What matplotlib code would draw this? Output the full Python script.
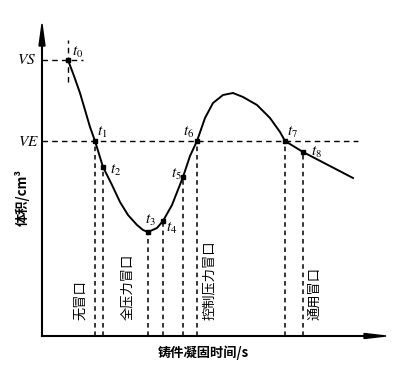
import matplotlib.pyplot as plt
import numpy as np

plt.rcParams['font.family'] = ['Noto Sans CJK SC', 'DejaVu Sans']
plt.rcParams['mathtext.fontset'] = 'stix'

# curve (time, volume), arbitrary units
curve_t = [26, 32, 38, 43, 48, 53, 61, 70, 78, 86, 95, 101, 106, 115, 121, 130, 141,
           148, 155, 163, 171, 181, 191, 201, 215, 228, 238, 243, 261, 286, 311]
curve_v = [276, 260, 243, 226, 209, 195, 169, 151, 134, 121, 111, 106, 104, 108, 115,
           131, 159, 180, 195, 218, 233, 241, 243, 239, 231, 218, 204, 195, 184, 171, 158]

# marked instants t0..t8
mark_names = ['t_0', 't_1', 't_2', 't_3', 't_4', 't_5', 't_6', 't_7', 't_8']
mark_t = [26, 53, 61, 106, 121, 141, 155, 243, 261]
mark_v = [276, 195, 169, 104, 115, 159, 195, 195, 184]

VS, VE = 276, 195
riser_names = ['无冒口', '全压力冒口', '控制压力冒口', '通用冒口']
riser_t = [39, 86, 168, 273]

fig = plt.figure(figsize=(3.97, 3.72), dpi=100)
ax = fig.add_axes([0, 0, 1, 1])
ax.set_xlim(-42, 355)
ax.set_ylim(-36, 336)
ax.axis('off')

# axes with arrows
ax.plot([0, 0], [0, 296], color='black', lw=1.5)
ax.plot([0, 330], [0, 0], color='black', lw=1.5)
ax.fill([-3, 3, 0], [290, 290, 312], color='black')
ax.fill([322, 322, 344], [-2.5, 2.5, 0], color='black')

dash = (0, (4, 3))
ax.plot([0, 316], [VE, VE], color='black', lw=1, linestyle=dash)
ax.plot([0, 41], [VS, VS], color='black', lw=1, linestyle=dash)
ax.plot([mark_t[0], mark_t[0]], [254, 296], color='black', lw=1, linestyle=dash)
for t, v in zip(mark_t[1:], mark_v[1:]):
    ax.plot([t, t], [0, v], color='black', lw=1.1, linestyle=(0, (3, 2.5)))

ax.plot(curve_t, curve_v, color='black', lw=1.4, solid_joinstyle='round')
ax.plot(mark_t, mark_v, 's', color='black', markersize=3.5)

offsets = [(10, 8), (7, 9), (13, -3), (2, 12), (9, -6), (-7, 4), (-8, 10), (7, 10), (13, 0)]
for name, t, v, (dx, dy) in zip(mark_names, mark_t, mark_v, offsets):
    ax.text(t + dx, v + dy, '$' + name + '$', fontsize=11, ha='center', va='center')

ax.text(-15, VS, '$VS$', fontsize=11, ha='center', va='center')
ax.text(-14, VE, '$VE$', fontsize=11, ha='center', va='center')

for name, t in zip(riser_names, riser_t):
    ax.text(t, 16, name, rotation=90, fontsize=9.5, ha='center', va='bottom')

ax.text(-20, 138, '体积/cm³', rotation=90, fontsize=9.5, fontweight='bold',
        ha='center', va='center')
ax.text(161, -17, '铸件凝固时间/s', fontsize=9.5, fontweight='bold',
        ha='center', va='center')

fig.savefig('out.png', dpi=100)
